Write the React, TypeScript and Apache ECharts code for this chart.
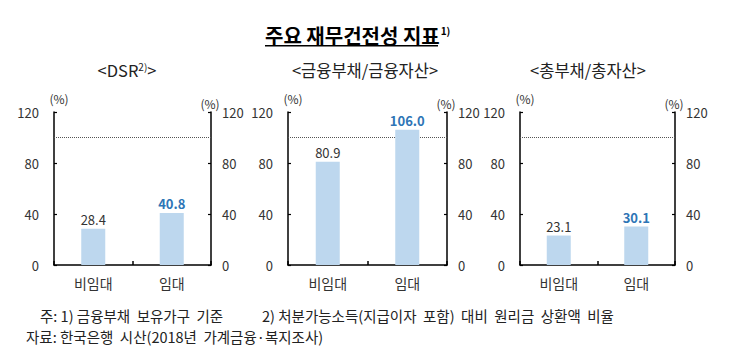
import React, { useEffect, useRef } from 'react';
import * as echarts from 'echarts';

const categories = ['비임대', '임대'];
const dsrValues = [28.4, 40.8];
const finDebtValues = [80.9, 106.0];
const totalDebtValues = [23.1, 30.1];
const yMin = 0;
const yMax = 120;
const yInterval = 40;
const refValue = 100;

const mainTitle = '주요 재무건전성 지표';
const mainTitleNote = '1)';
const panelTitles = ['<DSR', '<금융부채/금융자산>', '<총부채/총자산>'];
const unitLabel = '(%)';
const footnote1a = '주: 1) 금융부채  보유가구  기준';
const footnote1b = '2) 처분가능소득(지급이자  포함)  대비  원리금  상환액  비율';
const footnote2 = '자료: 한국은행  시산(2018년  가계금융·복지조사)';

const FONT = '"Noto Sans CJK KR", "Noto Sans", sans-serif';
const BAR = '#BDD7EE';
const BLUE = '#2E75B6';
const DARK = '#333333';

const grids = [
  { left: 54, top: 112, width: 157, height: 153 },
  { left: 288, top: 112, width: 159, height: 153 },
  { left: 520, top: 112, width: 155, height: 153 },
];

export default function App() {
  const ref = useRef<HTMLDivElement>(null);
  useEffect(() => {
    if (!ref.current) return;
    const chart = echarts.init(ref.current, undefined, { renderer: 'svg' });
    const seriesData = [dsrValues, finDebtValues, totalDebtValues];

    const xAxes = grids.map((_, i) => ({
      type: 'category',
      gridIndex: i,
      data: categories,
      axisLine: { lineStyle: { color: '#000', width: 1.5 } },
      axisTick: { show: true, inside: true, length: 4, lineStyle: { color: '#000', width: 1.5 } },
      axisLabel: { color: DARK, fontSize: 14, fontFamily: FONT, margin: 11 },
    }));
    const yAxes: any[] = [];
    grids.forEach((_, i) => {
      ['left', 'right'].forEach((pos) => {
        yAxes.push({
          type: 'value',
          gridIndex: i,
          position: pos,
          min: yMin,
          max: yMax,
          interval: yInterval,
          axisLine: { show: true, lineStyle: { color: '#000', width: 1.5 } },
          axisTick: { show: true, inside: true, length: 3, lineStyle: { color: '#000', width: 1.2 } },
          axisLabel: {
            color: DARK,
            fontSize: 13,
            fontFamily: FONT,
            margin: pos === 'left' ? 15 : 11,
          },
          splitLine: { show: false },
        });
      });
    });

    const series = seriesData.map((vals, i) => ({
      type: 'bar',
      xAxisIndex: i,
      yAxisIndex: i * 2,
      barWidth: 24,
      z: 3,
      itemStyle: { color: BAR },
      data: vals.map((v, j) => ({
        value: v,
        label: {
          show: true,
          position: 'top',
          distance: 3,
          formatter: (p: any) => Number(p.value).toFixed(1),
          fontSize: 13,
          fontFamily: FONT,
          color: j === 1 ? BLUE : DARK,
          fontWeight: j === 1 ? 'bold' : 'normal',
        },
      })),
      markLine: {
        silent: true,
        symbol: 'none',
        z: 1,
        label: { show: false },
        lineStyle: { color: '#555', type: 'dotted', width: 1 },
        data: [{ yAxis: refValue }],
      },
    }));

    const subCenters = [127, 365, 588];
    const graphics: any[] = [
      {
        type: 'text',
        x: 265,
        y: 35,
        style: {
          text: `{a|${mainTitle}}{s|${mainTitleNote}}`,
          verticalAlign: 'middle',
          rich: {
            a: { fontSize: 20, fontWeight: 'bold', fontFamily: FONT, fill: '#000' },
            s: { fontSize: 10, fontWeight: 'bold', fontFamily: FONT, fill: '#000', padding: [0, 0, 9, 1] },
          },
        },
      },
      {
        type: 'rect',
        shape: { x: 265, y: 45, width: 173, height: 1.5 },
        style: { fill: '#000' },
      },
    ];
    panelTitles.forEach((t, i) => {
      const text = i === 0 ? `{a|${t}}{s|2)}{a|>}` : `{a|${t}}`;
      graphics.push({
        type: 'text',
        x: subCenters[i],
        y: 70,
        style: {
          text,
          align: 'center',
          verticalAlign: 'middle',
          rich: {
            a: { fontSize: 16.5, fontFamily: FONT, fill: '#222' },
            s: { fontSize: 10, fontFamily: FONT, fill: '#222', padding: [0, 0, 8, 0] },
          },
        },
      });
    });
    grids.forEach((g) => {
      graphics.push({
        type: 'text',
        x: g.left + 5,
        y: 98,
        style: { text: unitLabel, align: 'center', verticalAlign: 'middle', fontSize: 12, fontFamily: FONT, fill: DARK },
      });
      graphics.push({
        type: 'text',
        x: g.left + g.width - 1,
        y: 103,
        style: { text: unitLabel, align: 'center', verticalAlign: 'middle', fontSize: 12, fontFamily: FONT, fill: DARK },
      });
    });
    const footStyle = { verticalAlign: 'middle', fontSize: 14.5, fontFamily: FONT, fill: '#222' };
    graphics.push({ type: 'text', x: 40, y: 315, style: { ...footStyle, text: footnote1a } });
    graphics.push({ type: 'text', x: 262, y: 315, style: { ...footStyle, text: footnote1b } });
    graphics.push({ type: 'text', x: 26, y: 336, style: { ...footStyle, text: footnote2 } });

    chart.setOption({
      animation: false,
      backgroundColor: '#fff',
      grid: grids,
      xAxis: xAxes,
      yAxis: yAxes,
      series,
      graphic: graphics,
    });
    return () => chart.dispose();
  }, []);
  return <div ref={ref} style={{ position: 'absolute', left: 0, top: 0, width: 745, height: 356 }} />;
}
